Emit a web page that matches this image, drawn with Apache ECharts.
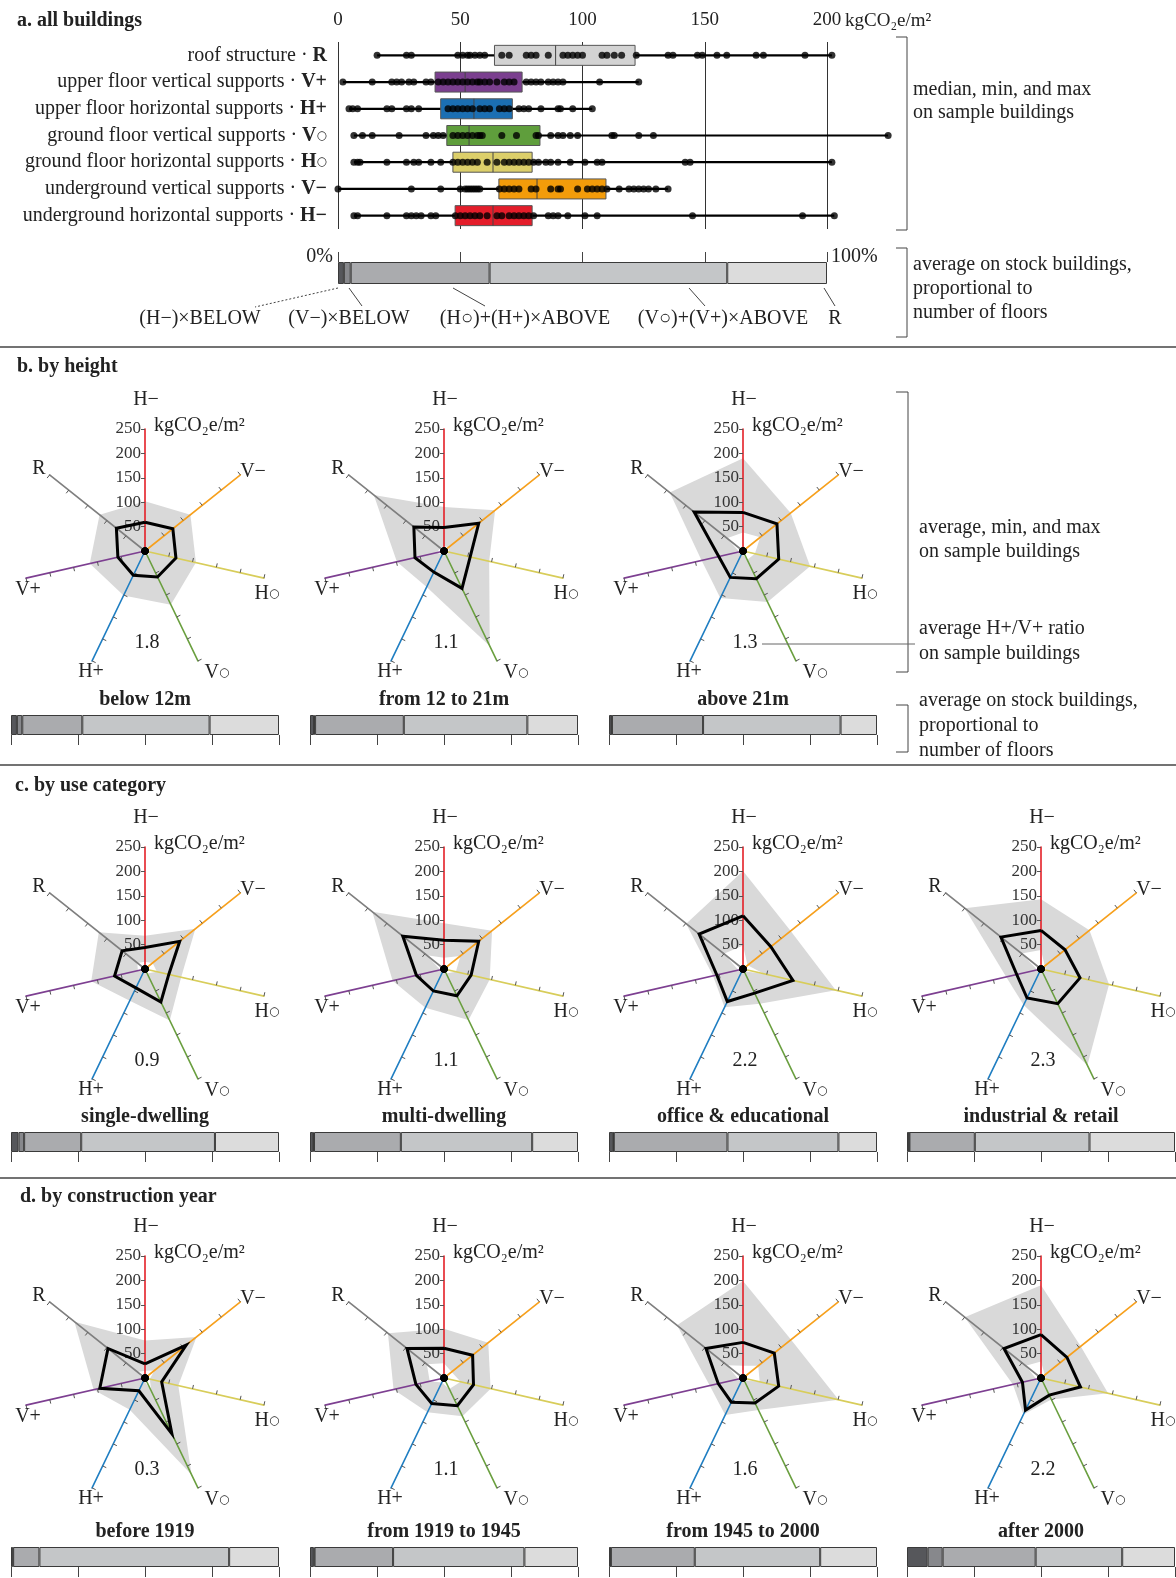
<!DOCTYPE html>
<html>
<head>
<meta charset="utf-8">
<script src="https://cdn.jsdelivr.net/npm/echarts@6/dist/echarts.min.js"></script>
<style>
  html, body { margin: 0; padding: 0; background: #fff; }
  #chart { width: 1176px; height: 1578px; }
</style>
</head>
<body>
<div id="chart"></div>
<script>
// ---- part a: sample buildings, per structural part (top to bottom)
const partNames = ['roof structure', 'upper floor vertical supports', 'upper floor horizontal supports',
  'ground floor vertical supports', 'ground floor horizontal supports', 'underground vertical supports',
  'underground horizontal supports'];
const partCodes = ['R', 'V+', 'H+', 'V○', 'H○', 'V−', 'H−'];
const boxMin = [16, 2, 4.5, 6.5, 6.5, 0, 6.5];
const boxQ1 = [64, 39.7, 42, 44.5, 47, 65.8, 47.9];
const boxMedian = [89, 52, 55.6, 53.6, 63.4, 81.4, 63.4];
const boxQ3 = [121.5, 75.3, 71.3, 82.6, 79.4, 109.6, 79.4];
const boxMax = [202, 123, 104, 225, 202, 135, 203];

const dotsR = [16, 28, 30, 49, 51, 53, 54, 56, 58, 60, 67, 70, 77, 79, 81, 86, 92, 94, 96, 98, 100, 108, 110, 113, 116, 122, 135, 137, 147, 149, 155, 159, 171, 174, 191, 202];
const dotsVup = [2, 14, 22, 24, 26, 29, 31, 36, 38, 41, 43, 45, 47, 49, 51, 53, 55, 57, 58, 60, 62, 65, 68, 70, 72, 77, 79, 81, 83, 86, 88, 90, 92, 107, 123];
const dotsHup = [4.5, 6, 8, 20, 22, 28, 30, 33, 45, 47, 49, 51, 53, 55, 58, 60, 62, 66, 68, 70, 74, 76, 78, 83, 90, 91, 96, 104];
const dotsVground = [6.5, 10, 14, 25, 36, 39, 41, 43, 47, 49, 51, 53, 55, 57, 58, 59, 67, 73, 81, 82, 87, 90, 92, 95, 98, 112, 113, 123, 129, 225];
const dotsHground = [6.5, 8, 9, 20, 28, 31, 33, 38, 42, 47, 49, 51, 53, 55, 57, 61, 65, 68, 70, 72, 74, 76, 78, 80, 82, 85, 87, 90, 95, 101, 106, 108, 142, 144, 202];
const dotsVunder = [0, 30, 42, 50, 52, 53, 54, 55, 56, 57, 58, 66, 68, 70, 72, 74, 79, 81, 87, 90, 91, 98, 102, 104, 106, 108, 110, 115, 119, 121, 123, 125, 127, 130, 135];
const dotsHunder = [6.5, 8, 20, 28, 30, 32, 34, 38, 40, 48, 50, 52, 54, 56, 58, 61, 65, 67, 70, 72, 74, 76, 78, 80, 86, 88, 90, 94, 101, 106, 145, 190, 203];
const partDots = [dotsR, dotsVup, dotsHup, dotsVground, dotsHground, dotsVunder, dotsHunder];

// ---- stock shares: (H−)×BELOW, (V−)×BELOW, (H○)+(H+)×ABOVE, (V○)+(V+)×ABOVE, R  (%)
const stockNames = ['(H−)×BELOW', '(V−)×BELOW', '(H○)+(H+)×ABOVE', '(V○)+(V+)×ABOVE', 'R'];
const stockAll = [1.2, 1.4, 28.4, 48.6, 20.4];

// ---- radar panels: axes clockwise from the top
const axisKeys = ['H−', 'V−', 'H○', 'V○', 'H+', 'V+', 'R'];
const panelLabels = ['below 12m', 'from 12 to 21m', 'above 21m',
  'single-dwelling', 'multi-dwelling', 'office & educational', 'industrial & retail',
  'before 1919', 'from 1919 to 1945', 'from 1945 to 2000', 'after 2000'];
const panelRatios = [1.8, 1.1, 1.3, 0.9, 1.1, 2.2, 2.3, 0.3, 1.1, 1.6, 2.2];
const avgValues = [
  [59, 73, 65, 59, 55, 57, 75],
  [48, 91, 55, 85, 48, 61, 79],
  [79, 89, 75, 63, 60, 51, 128],
  [44, 91, 50, 75, 43, 64, 60],
  [59, 91, 57, 61, 50, 58, 108],
  [109, 73, 105, 55, 74, 55, 115],
  [79, 63, 82, 79, 66, 51, 105],
  [29, 108, 35, 127, 29, 95, 97],
  [61, 75, 62, 63, 58, 59, 97],
  [73, 82, 75, 57, 55, 52, 97],
  [89, 68, 83, 39, 73, 39, 97]
];
const maxValues = [
  [102, 119, 107, 122, 101, 116, 119],
  [90, 134, 95, 216, 82, 99, 184],
  [190, 125, 141, 116, 107, 87, 192],
  [68, 132, 76, 117, 72, 113, 121],
  [94, 126, 96, 116, 88, 108, 188],
  [201, 125, 195, 79, 87, 63, 149],
  [143, 127, 143, 219, 82, 73, 200],
  [77, 135, 70, 220, 72, 108, 185],
  [101, 116, 98, 87, 78, 106, 147],
  [199, 126, 201, 73, 84, 70, 173],
  [190, 104, 141, 49, 83, 59, 200]
];
const minValues = [
  [8, 10, 10, 12, 8, 10, 10],
  [10, 12, 10, 10, 8, 15, 10],
  [38, 45, 25, 20, 5, 8, 42],
  [15, 20, 25, 10, 5, 15, 20],
  [23, 43, 25, 10, 5, 8, 45],
  [48, 12, 45, 5, 5, 10, 50],
  [39, 10, 10, 8, 5, 8, 51],
  [15, 25, 10, 30, 5, 5, 20],
  [30, 20, 35, 25, 10, 30, 45],
  [25, 40, 35, 5, 5, 10, 42],
  [34, 10, 10, 5, 5, 10, 40]
];
const stockShares = [
  [2.2, 2.0, 22.4, 47.5, 25.9],
  [1.5, 0.4, 33.1, 46.1, 18.9],
  [1.0, 0.1, 34.0, 51.3, 13.6],
  [2.8, 2.1, 21.3, 49.9, 23.9],
  [1.2, 0.3, 32.4, 49.0, 17.1],
  [1.6, 0.2, 42.4, 41.4, 14.4],
  [0.8, 0.1, 24.4, 42.8, 31.9],
  [0.6, 0.2, 9.8, 70.8, 18.6],
  [1.4, 0.3, 29.3, 49.0, 20.0],
  [0.6, 0.1, 31.3, 46.8, 21.2],
  [7.7, 5.6, 34.7, 32.3, 19.7]
];

// ---- styles / layout
const SERIF = 'Liberation Serif';
const FS = 20;
const boxColors = ['#d3d3d3', '#7b3f8f', '#1b6fb3', '#5f9e3c', '#dccf6a', '#f39c0a', '#e41d2a'];
const axisColors = ['#e41f26', '#f7a01c', '#d8cd5a', '#6a9f3f', '#1f7ec2', '#7d3f91', '#7f7f7f'];
const stockColors = ['#56575b', '#87888c', '#aaabae', '#c4c6c8', '#dcdcdc'];
const colX = [145, 444, 743, 1041];
const rowY = [551, 969, 1378];
const barTop = [715, 1132, 1547];
const panelRow = [0, 0, 0, 1, 1, 1, 1, 2, 2, 2, 2];
const panelCol = [0, 1, 2, 0, 1, 2, 3, 0, 1, 2, 3];
const R = 122;
// where each axis name sits, relative to the radar centre
const nameOffset = [[1, -151], [108, -79], [122, 43], [72, 122], [-54, 121], [-117, 39], [-106, -82]];
// ECharts lays radar indicators counter-clockwise from the top
const ccwOrder = [0, 6, 5, 4, 3, 2, 1];
function ccw(arr) { return ccwOrder.map(k => arr[k]); }

function codeRich(code, style) {
  if (code.slice(-1) === '○') return '{' + style + '|' + code.slice(0, -1) + '}{c|○}';
  return '{' + style + '|' + code + '}';
}
const richStyles = {
  n: { fontFamily: SERIF, fontSize: FS, color: '#222' },
  b: { fontFamily: SERIF, fontSize: FS, fontWeight: 'bold', color: '#222' },
  c: { fontFamily: 'DejaVu Sans', fontSize: 12, color: '#222' }
};

const chart = echarts.init(document.getElementById('chart'));

const grids = [{ left: 338, top: 42, width: 489, height: 187 }, { left: 338, top: 262, width: 489, height: 22 }];
const xAxes = [{
  gridIndex: 0, type: 'value', position: 'top', min: 0, max: 200, interval: 50,
  axisLine: { show: false }, axisTick: { show: false },
  axisLabel: { fontFamily: SERIF, fontSize: 19, color: '#222', margin: 12 },
  splitLine: { show: true, lineStyle: { color: '#333', width: 1 } }
}, {
  gridIndex: 1, type: 'value', position: 'top', min: 0, max: 100, interval: 25,
  axisLine: { show: false }, axisTick: { show: true, length: 10, lineStyle: { color: '#444' } },
  axisLabel: { show: false }, splitLine: { show: false }
}];
const yAxes = [{
  gridIndex: 0, type: 'category', inverse: true, data: partCodes,
  axisLine: { show: false }, axisTick: { show: false },
  axisLabel: {
    margin: 11,
    formatter: (v, i) => '{n|' + partNames[i] + ' · }' + codeRich(v, 'b'),
    rich: richStyles
  }
}, { gridIndex: 1, type: 'category', data: ['all'], show: false }];

const series = [];
// whiskers, boxes and medians
series.push({
  type: 'custom', xAxisIndex: 0, yAxisIndex: 0, z: 2, clip: false, silent: true,
  encode: { x: [1, 2, 3, 4, 5], y: 0 },
  data: partCodes.map((c, i) => [i, boxMin[i], boxQ1[i], boxMedian[i], boxQ3[i], boxMax[i]]),
  renderItem: function (params, api) {
    const row = api.value(0);
    const lo = api.coord([api.value(1), row]);
    const q1 = api.coord([api.value(2), row]);
    const md = api.coord([api.value(3), row]);
    const q3 = api.coord([api.value(4), row]);
    const hi = api.coord([api.value(5), row]);
    const h = 20;
    return {
      type: 'group', children: [
        { type: 'line', shape: { x1: lo[0], y1: lo[1], x2: hi[0], y2: hi[1] }, style: { stroke: '#000', lineWidth: 2.2 } },
        { type: 'rect', shape: { x: q1[0], y: q1[1] - h / 2, width: q3[0] - q1[0], height: h }, style: { fill: boxColors[row], stroke: '#555', lineWidth: 1 } },
        { type: 'line', shape: { x1: md[0], y1: md[1] - h / 2, x2: md[0], y2: md[1] + h / 2 }, style: { stroke: '#444', lineWidth: 1 } }
      ]
    };
  }
});
series.push({
  type: 'scatter', xAxisIndex: 0, yAxisIndex: 0, z: 3, clip: false, silent: true,
  symbolSize: 7, itemStyle: { color: '#000' },
  data: partDots.flatMap((arr, r) => arr.map(v => [v, r]))
});
// stock bar, all buildings
stockAll.forEach((v, k) => series.push({
  type: 'bar', xAxisIndex: 1, yAxisIndex: 1, stack: 'all', barWidth: 22, silent: true,
  itemStyle: { color: stockColors[k], borderColor: '#3a3a3a', borderWidth: 1 }, data: [v]
}));

const radars = [];
const graphics = [];
function txt(x, y, s, o) {
  o = o || {};
  return {
    type: 'text', x: x, y: y, silent: true, z: 10,
    style: {
      text: s, fontFamily: SERIF, fontSize: o.size || FS, fontWeight: o.bold ? 'bold' : 'normal',
      fill: '#222', align: o.align || 'left', verticalAlign: 'middle',
      textAlign: o.align || 'left', textVerticalAlign: 'middle', rich: o.rich
    }
  };
}
function seg(x1, y1, x2, y2, o) {
  o = o || {};
  return {
    type: 'line', silent: true, z: 10, shape: { x1: x1, y1: y1, x2: x2, y2: y2 },
    style: { stroke: o.color || '#444', lineWidth: o.width || 1, lineDash: o.dash || null }
  };
}

panelLabels.forEach((label, i) => {
  const cx = colX[panelCol[i]], cy = rowY[panelRow[i]];
  radars.push({
    center: [cx, cy], radius: R, startAngle: 90, splitNumber: 5, shape: 'polygon', z: 3,
    splitLine: { show: false }, splitArea: { show: false },
    axisLine: { show: true, lineStyle: { width: 1.6 } },
    axisTick: { show: true, length: 4, lineStyle: { color: '#555', width: 1 } },
    axisLabel: { show: false },
    axisName: { show: false },
    indicator: ccwOrder.map(k => ({
      name: axisKeys[k], min: 0, max: 250,
      axisLine: { show: true, lineStyle: { color: axisColors[k], width: 1.6 } },
      axisLabel: k === 0
        ? { show: true, showMinLabel: false, fontFamily: SERIF, fontSize: 17, color: '#333', margin: 4 }
        : { show: false }
    }))
  });
  series.push({
    type: 'radar', radarIndex: i, z: 1, silent: true, symbol: 'none',
    lineStyle: { opacity: 0 }, areaStyle: { color: '#d9d9d9', opacity: 1 },
    data: [{ value: ccw(maxValues[i]) }]
  });
  series.push({
    type: 'radar', radarIndex: i, z: 2, silent: true, symbol: 'none',
    lineStyle: { opacity: 0 }, areaStyle: { color: '#ffffff', opacity: 1 },
    data: [{ value: ccw(minValues[i]) }]
  });
  series.push({
    type: 'radar', radarIndex: i, z: 4, silent: true, symbol: 'none',
    lineStyle: { color: '#000', width: 3, join: 'miter' },
    data: [{ value: ccw(avgValues[i]) }]
  });
  series.push({
    type: 'radar', radarIndex: i, z: 5, silent: true, symbol: 'circle', symbolSize: 7,
    itemStyle: { color: '#000' }, lineStyle: { opacity: 0 },
    data: [{ value: [0, 0, 0, 0, 0, 0, 0] }]
  });

  // stock bar under the panel
  const g = grids.length;
  grids.push({ left: cx - 134, top: barTop[panelRow[i]], width: 268, height: 20 });
  xAxes.push({
    gridIndex: g, type: 'value', position: 'bottom', min: 0, max: 100, interval: 25,
    axisLine: { show: false }, axisTick: { show: true, length: 10, lineStyle: { color: '#444' } },
    axisLabel: { show: false }, splitLine: { show: false }
  });
  yAxes.push({ gridIndex: g, type: 'category', data: [label], show: false });
  stockShares[i].forEach((v, k) => series.push({
    type: 'bar', xAxisIndex: g, yAxisIndex: g, stack: 'p' + i, barWidth: 20, silent: true,
    itemStyle: { color: stockColors[k], borderColor: '#3a3a3a', borderWidth: 1 }, data: [v]
  }));

  axisKeys.forEach((key, k) => graphics.push(
    txt(cx + nameOffset[k][0], cy + nameOffset[k][1], codeRich(key, 'n'), { align: 'center', rich: richStyles })));
  graphics.push(txt(cx + 9, cy - 125, 'kgCO₂e/m²'));
  graphics.push(txt(cx + 2, cy + 92, panelRatios[i].toFixed(1), { align: 'center' }));
  graphics.push(txt(cx, barTop[panelRow[i]] - 15, label, { bold: true, align: 'center' }));
});

// headers and separators
graphics.push(txt(17, 21, 'a. all buildings', { bold: true }));
graphics.push(txt(17, 367, 'b. by height', { bold: true }));
graphics.push(txt(15, 786, 'c. by use category', { bold: true }));
graphics.push(txt(20, 1197, 'd. by construction year', { bold: true }));
[347, 765, 1178].forEach(y => graphics.push(seg(0, y, 1176, y, { color: '#444', width: 1.5 })));
graphics.push(txt(845, 21, 'kgCO₂e/m²', { size: 19 }));

// part a annotations
graphics.push(seg(907, 37, 907, 230), seg(896, 37, 907, 37), seg(896, 230, 907, 230));
graphics.push(txt(913, 90, 'median, min, and max'), txt(913, 113, 'on sample buildings'));
graphics.push(seg(907, 248, 907, 337), seg(896, 248, 907, 248), seg(896, 337, 907, 337));
graphics.push(txt(913, 265, 'average on stock buildings,'), txt(913, 289, 'proportional to'), txt(913, 313, 'number of floors'));
graphics.push(txt(333, 257, '0%', { align: 'right' }), txt(831, 257, '100%'));
const stockLabelX = [200, 349, 525, 723, 835];
stockNames.forEach((s, k) => graphics.push(txt(stockLabelX[k], 319, s, { align: 'center' })));
graphics.push(seg(338, 288, 255, 307, { dash: [2, 2] }), seg(349, 288, 362, 306), seg(453, 288, 485, 306),
  seg(689, 288, 705, 306), seg(824, 288, 835, 306));

// part b annotations
graphics.push(seg(908, 392, 908, 672), seg(896, 392, 908, 392), seg(896, 672, 908, 672));
graphics.push(txt(919, 528, 'average, min, and max'), txt(919, 552, 'on sample buildings'));
graphics.push(txt(919, 629, 'average H+/V+ ratio'), txt(919, 654, 'on sample buildings'));
graphics.push(seg(762, 644, 915, 644, { color: '#666' }));
graphics.push(seg(908, 705, 908, 752), seg(896, 705, 908, 705), seg(896, 752, 908, 752));
graphics.push(txt(919, 701, 'average on stock buildings,'), txt(919, 726, 'proportional to'), txt(919, 751, 'number of floors'));

chart.setOption({
  animation: false,
  backgroundColor: '#fff',
  grid: grids,
  xAxis: xAxes,
  yAxis: yAxes,
  radar: radars,
  series: series,
  graphic: graphics
});
</script>
</body>
</html>
